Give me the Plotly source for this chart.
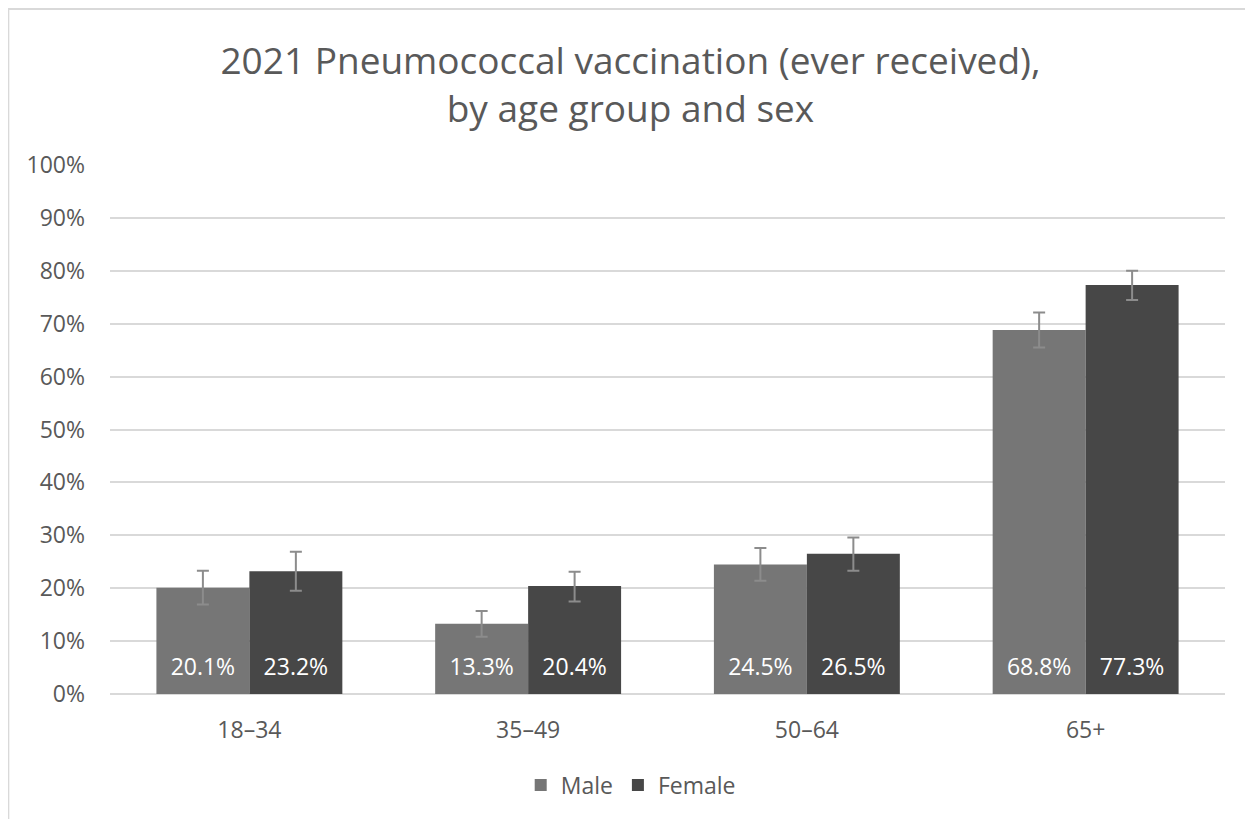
import plotly.graph_objects as go

categories = ["18–34", "35–49", "50–64", "65+"]
male = [0.201, 0.133, 0.245, 0.688]
female = [0.232, 0.204, 0.265, 0.773]
male_err_plus = [0.032, 0.024, 0.031, 0.033]
male_err_minus = [0.032, 0.025, 0.031, 0.033]
female_err_plus = [0.037, 0.027, 0.031, 0.027]
female_err_minus = [0.037, 0.029, 0.032, 0.028]

FONT = "Open Sans"
TXT = "#595959"
ERR = "#8c8c8c"
GAP = 0.333
LABEL_LEVEL = 0.046

fig = go.Figure()
series = [("Male", male, male_err_plus, male_err_minus, "#767676"),
          ("Female", female, female_err_plus, female_err_minus, "#474747")]
for name, vals, ep, em, col in series:
    fig.add_trace(go.Bar(
        name=name, x=categories, y=vals, offsetgroup=name,
        marker=dict(color=col, line=dict(width=0)),
        error_y=dict(type="data", symmetric=False, array=ep, arrayminus=em,
                     color=ERR, thickness=2, width=6),
        hoverinfo="skip",
    ))
for name, vals, ep, em, col in series:
    fig.add_trace(go.Scatter(
        x=categories, y=[LABEL_LEVEL] * len(vals), offsetgroup=name,
        mode="text", text=[f"{v*100:.1f}%" for v in vals],
        textposition="middle center",
        textfont=dict(color="white", size=23, family=FONT),
        showlegend=False, hoverinfo="skip",
    ))

fig.update_layout(
    width=1245, height=811,
    paper_bgcolor="white", plot_bgcolor="white",
    font=dict(family=FONT, color=TXT, size=23),
    title=dict(text="2021 Pneumococcal vaccination (ever received),<br>by age group and sex",
               x=0.5, xanchor="center", y=0.919, yanchor="top",
               font=dict(size=37, color=TXT, family=FONT)),
    margin=dict(l=102, r=28, t=157, b=125),
    barmode="group", bargap=GAP, bargroupgap=0,
    scattermode="group", scattergap=GAP,
    legend=dict(orientation="h", x=0.467, xanchor="center", y=-0.172, yanchor="middle",
                font=dict(size=23, color=TXT, family=FONT),
                traceorder="normal"),
    showlegend=True,
)
fig.update_yaxes(range=[0, 1.0], dtick=0.1, tickformat=".0%", showgrid=True,
                 gridcolor="#d9d9d9", gridwidth=1.5, zeroline=True, zerolinecolor="#d9d9d9",
                 zerolinewidth=1.5, showline=False, ticks="", ticklabelstandoff=24,
                 tickfont=dict(size=23, color=TXT, family=FONT))
fig.update_xaxes(showline=False, ticks="", tickfont=dict(size=23, color=TXT, family=FONT),
                 ticklabelstandoff=20)

fig.add_shape(type="rect", xref="paper", yref="paper",
              x0=-0.0912, x1=1.2, y0=-0.6, y1=1.2949,
              line=dict(color="#d9d9d9", width=2), fillcolor="rgba(0,0,0,0)", layer="below")

fig.write_html("out.html")
